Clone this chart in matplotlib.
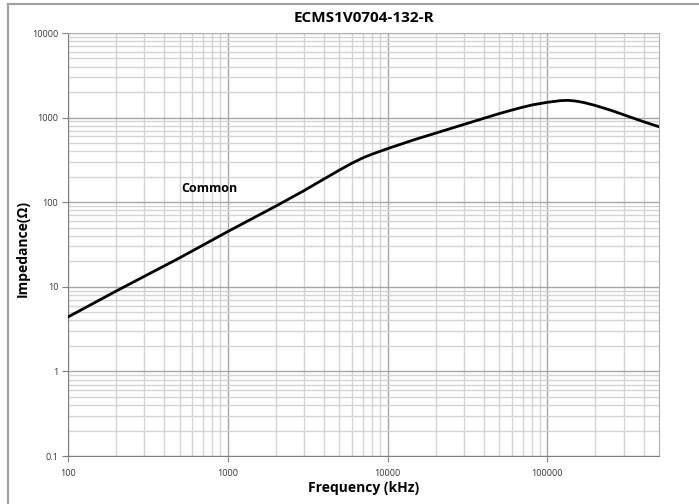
import matplotlib
matplotlib.use('Agg')
import matplotlib.pyplot as plt
from matplotlib.lines import Line2D
from matplotlib.ticker import FixedLocator, NullFormatter

# impedance curve (kHz, ohm)
freq = [100, 200, 500, 1000, 2000, 3000, 4000, 5000, 6000, 7000, 8000,
        10000, 15000, 20000, 30000, 50000, 66000, 80000, 100000, 120000,
        135000, 150000, 170000, 200000, 250000, 300000, 400000, 500000]
impedance = [4.4, 8.9, 22, 45, 90, 137, 188, 240, 290, 334, 370,
             430, 555, 655, 830, 1116, 1290, 1410, 1517, 1585,
             1600, 1570, 1505, 1390, 1220, 1082, 895, 780]

x_ticks = [100, 1000, 10000, 100000]
x_labels = ['100', '1000', '10000', '100000']
y_ticks = [0.1, 1, 10, 100, 1000, 10000]
y_labels = ['0.1', '1', '10', '100', '1000', '10000']

plt.rcParams['font.family'] = ['Open Sans', 'DejaVu Sans']

fig = plt.figure(figsize=(6.99, 5.04), dpi=100)
ax = fig.add_axes([0.0973, 0.0952, 0.8455, 0.8393])

ax.plot(freq, impedance, color='black', linewidth=2.0, zorder=3)
ax.set_xscale('log')
ax.set_yscale('log')
ax.set_xlim(100, 500000)
ax.set_ylim(0.1, 10000)

ax.xaxis.set_major_locator(FixedLocator(x_ticks))
ax.set_xticklabels(x_labels)
ax.yaxis.set_major_locator(FixedLocator(y_ticks))
ax.set_yticklabels(y_labels)
minor_x = [m * 10 ** d for d in range(2, 6) for m in range(2, 10) if m * 10 ** d < 500000]
minor_y = [m * 10 ** d for d in range(-1, 4) for m in range(2, 10)]
ax.xaxis.set_minor_locator(FixedLocator(minor_x))
ax.yaxis.set_minor_locator(FixedLocator(minor_y))
ax.xaxis.set_minor_formatter(NullFormatter())
ax.yaxis.set_minor_formatter(NullFormatter())

ax.grid(which='major', color='#a6a6a6', linewidth=1.0)
ax.grid(which='minor', color='#d4d4d4', linewidth=1.0)
ax.tick_params(which='major', length=4, color='#808080', labelsize=6.5,
               labelcolor='#333333', pad=3)
ax.tick_params(which='minor', length=0)
ax.tick_params(axis='x', pad=5)
for s in ax.spines.values():
    s.set_color('#b0b0b0')
ax.spines['left'].set_color('#808080')
ax.spines['bottom'].set_color('#808080')

ax.set_xlabel('Frequency (kHz)', fontsize=10, fontweight='bold')
ax.xaxis.label.set_va('center')
ax.xaxis.set_label_coords(0.5, -(488 - 456) / 423)
ax.set_ylabel('Impedance(Ω)', fontsize=10, fontweight='bold')
ax.yaxis.label.set_va('center')
ax.yaxis.set_label_coords(-(68 - 23) / 591, 0.49)
ax.set_title('ECMS1V0704-132-R', fontsize=11, fontweight='bold', pad=8)

ax.text(767, 146, 'Common', fontsize=9, fontweight='bold',
        ha='center', va='center')

# outer frame (left and top edges visible in the reference)
fig.add_artist(Line2D([8 / 699, 8 / 699], [0, 1 - 4 / 504],
                      transform=fig.transFigure, color='#a0a0a0', linewidth=1.5))
fig.add_artist(Line2D([8 / 699, 1], [1 - 4 / 504, 1 - 4 / 504],
                      transform=fig.transFigure, color='#a0a0a0', linewidth=1.5))

fig.savefig('out.png', dpi=100)
